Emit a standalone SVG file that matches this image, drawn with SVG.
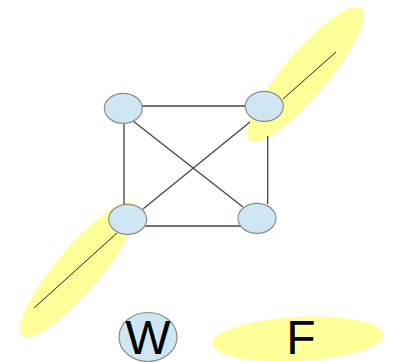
<svg xmlns="http://www.w3.org/2000/svg" width="393" height="362" viewBox="0 0 393 362">
<style>
.hl{fill:#ffff99;stroke:none}
.node{fill:#cfe6f3;stroke:#8c8c8c;stroke-width:1.2}
.edge{stroke:#444;stroke-width:1.3;fill:none}
.thin{stroke:#222;stroke-width:1;fill:none}
.lbl{font-family:"Liberation Sans",Arial,sans-serif;font-size:48px;fill:#000;text-anchor:middle}
</style>
<rect width="393" height="362" fill="#fff"/>
<g id="highlight-tr"><ellipse class="hl" cx="305.5" cy="74.5" rx="86.6" ry="22" transform="rotate(-49.7 305.5 74.5)"/></g>
<g id="highlight-bl"><ellipse class="hl" cx="78.5" cy="269.5" rx="86.6" ry="22" transform="rotate(-49.7 78.5 269.5)"/></g>
<g id="connectors">
<line class="edge" x1="142" y1="106" x2="246" y2="106"/>
<line class="edge" x1="124" y1="122" x2="124" y2="205"/>
<line class="edge" x1="267.7" y1="136" x2="267.7" y2="204"/>
<line class="edge" x1="145" y1="226" x2="241" y2="226"/>
<line class="edge" x1="133" y1="121" x2="243" y2="207"/>
<line class="edge" x1="250" y1="122" x2="143" y2="209"/>
<line class="thin" x1="283" y1="99" x2="336" y2="52"/>
<line class="thin" x1="34" y1="308" x2="117" y2="233"/>
</g>
<g id="n1"><ellipse class="node" cx="123.3" cy="108.3" rx="19" ry="15"/></g>
<g id="n2"><ellipse class="node" cx="264.3" cy="106.3" rx="19" ry="15"/></g>
<g id="n3"><ellipse class="node" cx="127.7" cy="219.3" rx="19" ry="15"/></g>
<g id="n4"><ellipse class="node" cx="257" cy="218.3" rx="19" ry="15"/></g>
<g id="W"><ellipse class="node" cx="148" cy="337" rx="29" ry="24.5"/><text class="lbl" x="148" y="354">W</text></g>
<g id="F"><ellipse class="hl" cx="298" cy="339" rx="86" ry="22" transform="rotate(-3 298 339)"/><text class="lbl" x="301" y="354">F</text></g>
</svg>
